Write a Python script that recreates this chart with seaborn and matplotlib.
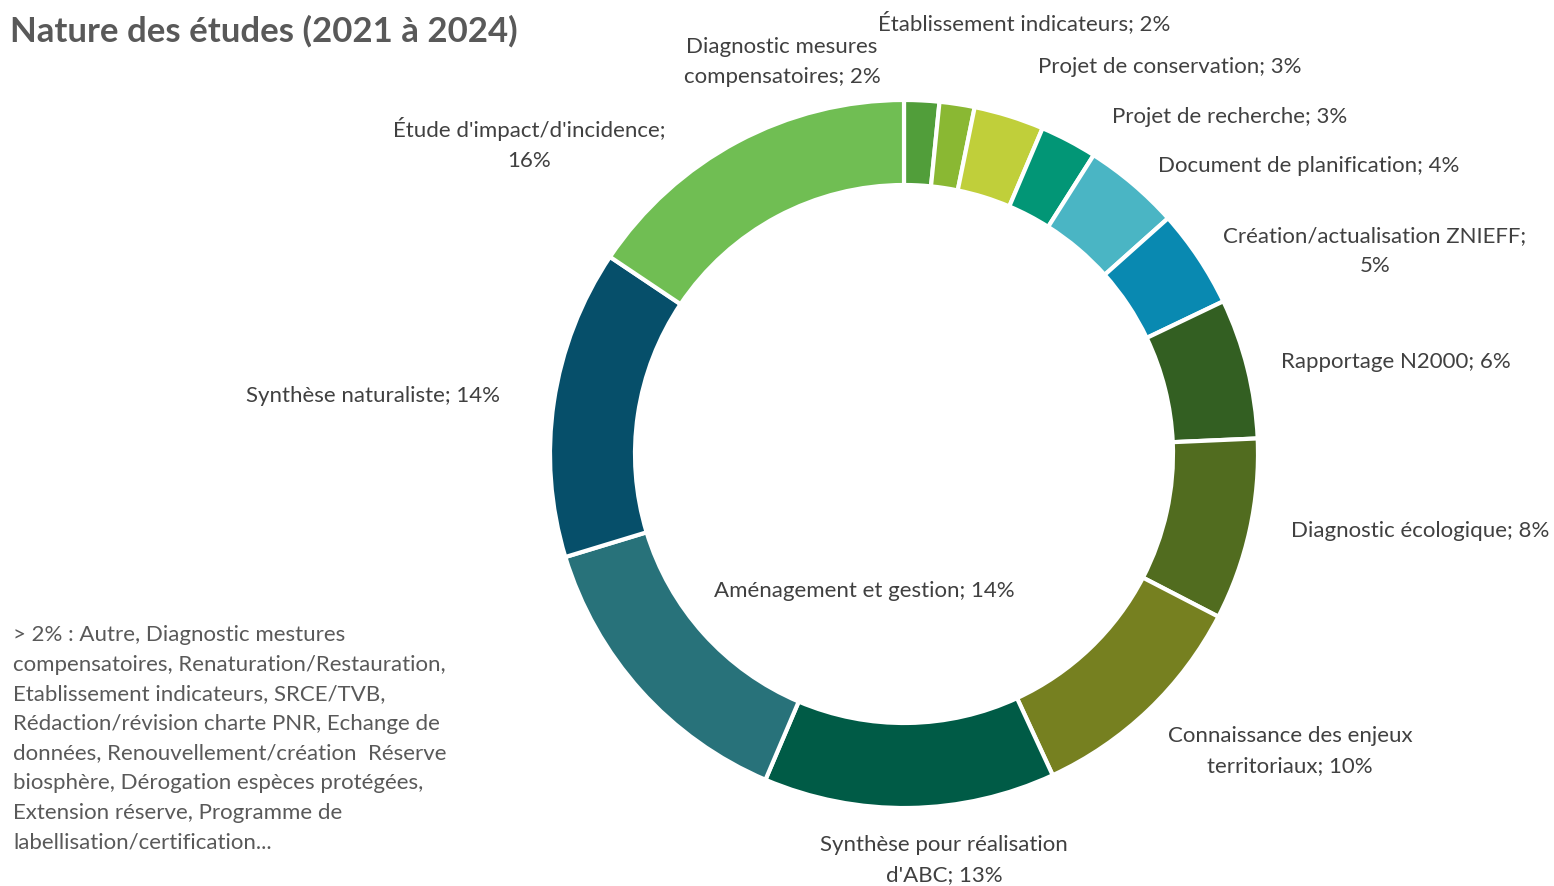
import matplotlib
matplotlib.use("Agg")
import matplotlib.pyplot as plt
import seaborn as sb

# Donut : nature des études 2021-2024
categories = ["Diagnostic mesures\ncompensatoires", "Établissement indicateurs",
              "Projet de conservation", "Projet de recherche",
              "Document de planification", "Création/actualisation ZNIEFF;\n",
              "Rapportage N2000", "Diagnostic écologique",
              "Connaissance des enjeux\nterritoriaux", "Synthèse pour réalisation\nd'ABC",
              "Aménagement et gestion", "Synthèse naturaliste",
              "Étude d'impact/d'incidence;\n"]
# shares (%), and the rounded % printed in the labels
shares = [1.6, 1.6, 3.2, 2.6, 4.4, 4.5, 6.4, 8.3, 10.5, 13.3, 13.9, 14.1, 15.6]
pct_labels = [2, 2, 3, 3, 4, 5, 6, 8, 10, 13, 14, 14, 16]
colors = ["#519E3A", "#8AB833", "#C0CF3A", "#029676", "#4AB5C4", "#0989B1",
          "#335F22", "#516C1F", "#768020", "#005B46", "#28727A", "#064F6A", "#70BE53"]

note = ("> 2% : Autre, Diagnostic mestures\ncompensatoires, Renaturation/Restauration,\n"
        "Etablissement indicateurs, SRCE/TVB,\nRédaction/révision charte PNR, Echange de\n"
        "données, Renouvellement/création  Réserve\nbiosphère, Dérogation espèces protégées,\n"
        "Extension réserve, Programme de\nlabellisation/certification...")

# label centres, in pixels from the top-left corner
label_pos = [(782, 62), (1024, 23), (1170, 67), (1230, 117), (1309, 166), (1375, 251),
             (1396, 362), (1420, 531), (1290, 751), (944, 860), (864, 591), (373, 396),
             (529, 144)]

sb.set_theme(style="white")
plt.rcParams['font.family'] = ['Lato', 'DejaVu Sans']

W, H = 1554, 886
fig = plt.figure(figsize=(W / 100, H / 100), dpi=100)
ax = fig.add_axes([0, 0, 1, 1])
ax.axis("off")

ax.pie(shares, colors=sb.color_palette(colors), startangle=90, counterclock=False,
       center=(904, H - 454), radius=354,
       wedgeprops=dict(width=85, edgecolor="white", linewidth=3))
ax.set_xlim(0, W)
ax.set_ylim(0, H)
ax.set_aspect("equal")

for cat, v, (x, y) in zip(categories, pct_labels, label_pos):
    if cat.endswith("\n"):
        txt = f"{cat}{v}%"
    else:
        txt = f"{cat}; {v}%"
    ax.text(x, H - y, txt, ha="center", va="center", fontsize=16,
            color="#404040", linespacing=1.58)

ax.text(10, H - 31, "Nature des études (2021 à 2024)", ha="left", va="center",
        fontsize=25, fontweight="bold", color="#595959")
ax.text(13, H - 625, note, ha="left", va="top", fontsize=16, color="#595959",
        linespacing=1.6)

fig.savefig("out.png", dpi=100)
